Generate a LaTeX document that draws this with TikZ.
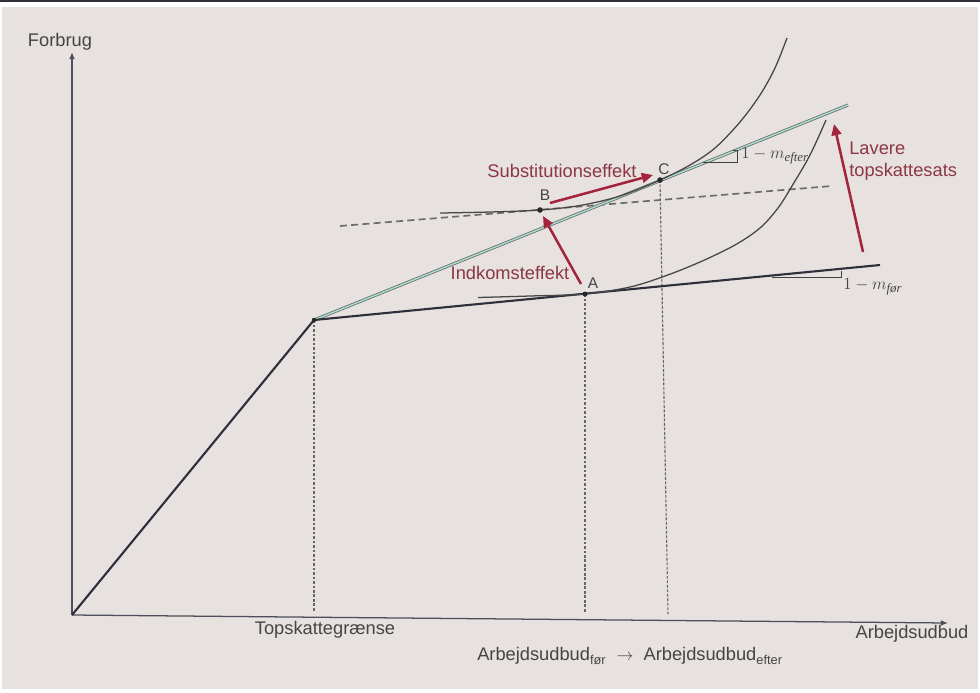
\documentclass[tikz,border=0pt]{standalone}
\usepackage{fontspec}
\setmainfont{Liberation Sans}
\newfontfamily\serifm{Liberation Serif}
\usepackage{amsmath}
\usetikzlibrary{arrows.meta}
\definecolor{bgGrey}{HTML}{E7E2DF}
\definecolor{barDark}{HTML}{30303C}
\definecolor{lineDark}{HTML}{2E2F3D}
\definecolor{textGrey}{HTML}{454545}
\definecolor{effRed}{HTML}{A3253D}
\definecolor{effText}{HTML}{8C3646}
\definecolor{budgetTeal}{HTML}{A9DCCF}

\begin{document}
\begin{tikzpicture}[x=0.025cm, y=-0.025cm,
    axis/.style={draw=lineDark!85, line width=0.9pt, -{Latex[length=5pt,width=4pt]}},
    budget/.style={draw=lineDark, line width=1.5pt},
    newbudget/.style={draw=gray!75!black, line width=0.5pt, double=budgetTeal, double distance=1.1pt},
    indiff/.style={draw=gray!55!black, line width=0.9pt},
    tangent/.style={draw=gray!85!black, line width=1.2pt, dash pattern=on 5pt off 3pt},
    guide/.style={draw=gray!80!black, line width=0.8pt, dash pattern=on 2pt off 1.2pt},
    effect/.style={draw=effRed, line width=1.8pt, -{Triangle[length=8pt,width=7pt]}},
    slope/.style={draw=gray!50!black, line width=0.6pt},
    lbl/.style={font=\fontsize{13}{15}\selectfont, text=textGrey, inner sep=0pt},
    efflbl/.style={font=\fontsize{13}{15.5}\selectfont, text=effText, inner sep=0pt},
    pt/.style={font=\fontsize{11}{13}\selectfont, text=textGrey, inner sep=0pt},
    mlbl/.style={font=\fontsize{13}{15}\selectfont, text=textGrey, inner sep=0pt},
    dot/.style={fill=black!85},
  ]
    % frame
    \fill[white] (0,0) rectangle (980,692);
    \fill[barDark] (0,0) rectangle (980,2);
    \fill[bgGrey] (2,7) rectangle (978,689);
    \useasboundingbox (0,0) rectangle (980,692);

    % points
    \coordinate (O) at (72,615);
    \coordinate (K) at (314,320);
    \coordinate (A) at (585,294);
    \coordinate (B) at (540,210);
    \coordinate (C) at (660,180);
    \coordinate (yEnd) at (72,52);
    \coordinate (xEnd) at (948,623);
    \coordinate (oldEnd) at (880,265);
    \coordinate (newEnd) at (848,105);
    \coordinate (tanStart) at (340,226);
    \coordinate (tanEnd) at (832,186);

    % guides down to the axis
    \draw[guide] (K) -- (314,612);
    \draw[guide] (A) -- (585,613);
    \draw[guide] (C) -- (668,614);

    % axes
    \draw[axis] (O) -- (yEnd);
    \draw[axis] (O) -- (xEnd);
    \node[lbl] (forbrug) at (60,42) {Forbrug};
    \node[lbl] (arbejde) at (912,634) {Arbejdsudbud};
    \node[lbl] (graense) at (325,630) {Topskattegrænse};
    \node[lbl] (skift) at (630,656)
      {Arbejdsudbud\textsubscript{før} \ $\rightarrow$ \ Arbejdsudbud\textsubscript{efter}};

    % budget lines
    \draw[tangent] (tanStart) -- (tanEnd);
    \draw[newbudget] (K) -- (newEnd);
    \draw[budget] (O) -- (K) -- (oldEnd);

    % indifference curves
    \draw[indiff] plot[smooth, tension=0.55] coordinates {(478,297.5) (530,296) (585,294)
      (630,287) (665,276) (700,262) (735,245) (760,228) (778,208) (792,186) (810,155) (826,120)};
    \draw[indiff] plot[smooth, tension=0.55] coordinates {(440,213) (490,212) (540,210)
      (580,205.5) (620,196) (660,180) (690,165) (715,148) (740,122) (760,95) (775,68) (787,38)};

    % slope marks
    \draw[slope] (703,162) -- (737,162) -- (737,150) -- (733,150);
    \node[mlbl, anchor=west] (mEfter) at (741,156) {$1-m_{\text{\serifm\itshape efter}}$};
    \draw[slope] (772,277) -- (841,277) -- (841,271);
    \node[mlbl, anchor=west] (mFoer) at (843,287) {$1-m_{\text{\serifm\itshape før}}$};

    % points and their letters
    \fill[dot] (K) circle (2.2);
    \fill[dot] (A) circle (2.5);
    \fill[dot] (B) circle (2.8);
    \fill[dot] (C) circle (2.8);
    \node[pt] (labA) at (593,283) {A};
    \node[pt] (labB) at (545,195) {B};
    \node[pt] (labC) at (664,169) {C};

    % effects
    \coordinate (subTail) at (550,203);
    \coordinate (subTip) at (653,175);
    \coordinate (indTail) at (581,284);
    \coordinate (indTip) at (543,216);
    \coordinate (taxTail) at (863,252);
    \coordinate (taxTip) at (834,124);
    \draw[effect] (subTail) -- (subTip);
    \draw[effect] (indTail) -- (indTip);
    \draw[effect] (taxTail) -- (taxTip);
    \node[efflbl] (subst) at (562,171) {Substitutionseffekt};
    \node[efflbl] (indk) at (510,273) {Indkomsteffekt};
    \node[efflbl, anchor=north west, align=left] (lavere) at (849,142)
      {Lavere\\topskattesats};
  \end{tikzpicture}
\end{document}
